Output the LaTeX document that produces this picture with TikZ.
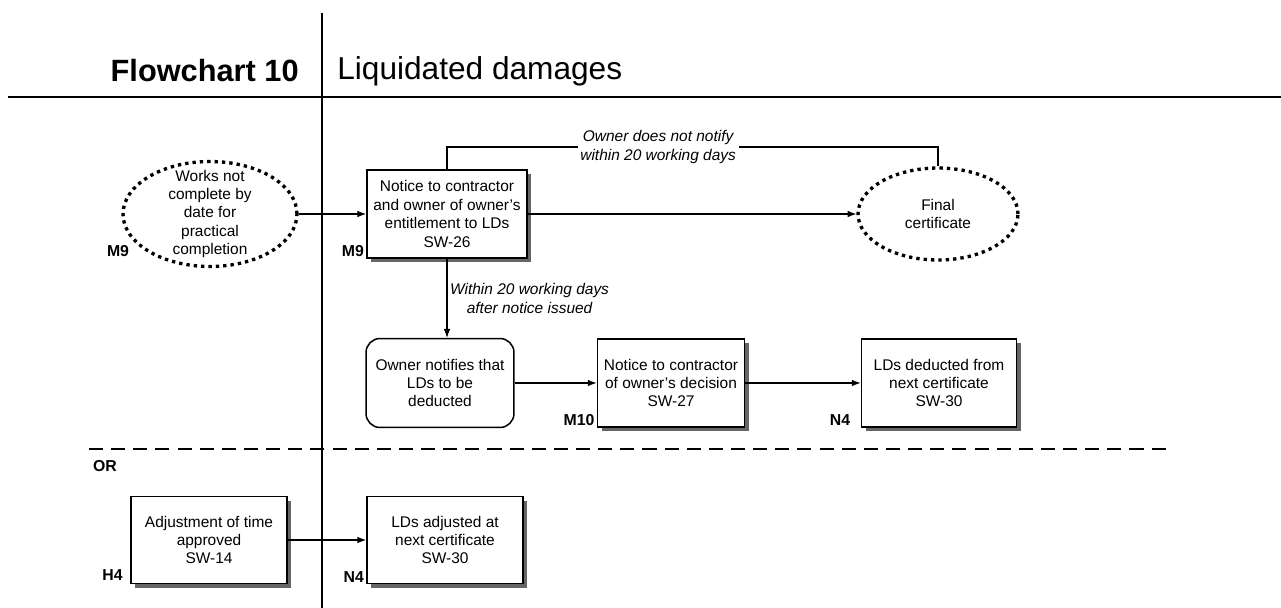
\documentclass[tikz,border=0pt]{standalone}
\usepackage{fontspec}
\setmainfont{Liberation Sans}
\usepackage{tikz}
\usetikzlibrary{arrows.meta, positioning, shapes.geometric, shadows}
\newcommand{\bxfont}{\fontsize{8.8}{10.5}\selectfont}
\newcommand{\lblfont}{\fontsize{9}{10}\selectfont\bfseries}
\tikzset{
    bx/.style    ={draw=black, line width=1.1pt, fill=white,
                   minimum width=3.1cm, minimum height=1.76cm,
                   align=center, font=\bxfont, inner sep=2pt,
                   drop shadow={shadow xshift=2.3pt, shadow yshift=-2.3pt,
                                fill=black!60, opacity=1}},
    rbx/.style   ={draw=black, line width=0.85pt, fill=white, rounded corners=8pt,
                   minimum width=2.96cm, minimum height=1.78cm,
                   align=center, font=\bxfont, inner sep=2pt},
    oval/.style  ={ellipse, draw=black, line width=1.9pt,
                   dash pattern=on 1.9pt off 2.3pt,
                   align=center, font=\bxfont, inner xsep=0pt},
    ar/.style    ={-{Latex[length=5pt, width=3.8pt]}, line width=0.6pt},
    ln/.style    ={line width=0.6pt},
    note/.style  ={font=\bxfont\itshape, align=center, inner sep=1.5pt},
    ref/.style   ={font=\lblfont, inner sep=1pt},
    rule/.style  ={line width=1.7pt}
}

\begin{document}
\begin{tikzpicture}[x=0.02cm, y=-0.02cm]
  \useasboundingbox (0,0) rectangle (1281,608);

  % heading
  \node[font=\fontsize{17.5}{20}\selectfont\bfseries, anchor=east, inner sep=0pt] (ttl) at (299,71) {Flowchart 10};
  \node[font=\fontsize{18}{20}\selectfont, anchor=west, inner sep=0pt] (sub) at (337,71) {Liquidated damages};
  \draw[rule] (8,97) -- (1281,97);
  \draw[rule] (322,13) -- (322,608);
  \draw[line width=1.4pt, dash pattern=on 8pt off 4.6pt] (89,449) -- (1167,449);
  \node[ref, anchor=west] (or) at (91,466) {OR};

  % main route
  \node[oval, minimum width=3.48cm, minimum height=2.1cm, inner ysep=-4.5pt] (wnc) at (210,214)
       {Works not\\complete by\\date for\\practical\\completion};
  \node[bx, minimum width=3.2cm] (n26) at (447,214)
       {Notice to contractor\\and owner of owner's\\entitlement to LDs\\SW-26};
  \node[oval, minimum width=3.2cm, minimum height=1.84cm] (fc) at (938,214) {Final\\certificate};

  \node[rbx] (own) at (440,383) {Owner notifies that\\LDs to be\\deducted};
  \node[bx, minimum width=2.94cm] (n27) at (671,383)
       {Notice to contractor\\of owner’s decision\\SW-27};
  \node[bx] (n30) at (939,383) {LDs deducted from\\next certificate\\SW-30};

  \node[bx, minimum width=3.12cm, minimum height=1.74cm] (adj) at (209,540)
       {Adjustment of time\\approved\\SW-14};
  \node[bx, minimum width=3.12cm, minimum height=1.74cm] (lda) at (445,540)
       {LDs adjusted at\\next certificate\\SW-30};

  % clause refs
  \node[ref] (m9a) at (118,251) {M9};
  \node[ref, anchor=south east] (m9b) at (n26.south west) {M9};
  \node[ref, anchor=south east] (m10) at (n27.south west) {M10};
  \node[ref, anchor=south east, xshift=-4.7pt] (n4a) at (n30.south west) {N4};
  \node[ref, anchor=south east, xshift=-3pt, yshift=1pt] (h4) at (adj.south west) {H4};
  \node[ref, anchor=south east] (n4b) at (lda.south west) {N4};

  \coordinate (top) at (0,147);
  \draw[ar] (wnc) -- (n26);
  \draw[ar] (n26) -- (fc);
  \draw[ln] (n26.north) -- (n26.north |- top)
        -- node[note, fill=white, pos=0.43] {Owner does not notify\\within 20 working days}
           (fc.north |- top) -- (fc.north);
  \draw[ar] (n26.south) -- node[note, anchor=west] {Within 20 working days\\after notice issued}
        (n26.south |- own.north);
  \draw[ar] (own) -- (n27);
  \draw[ar] (n27) -- (n30);
  \draw[ar] (adj) -- (lda);
\end{tikzpicture}
\end{document}
